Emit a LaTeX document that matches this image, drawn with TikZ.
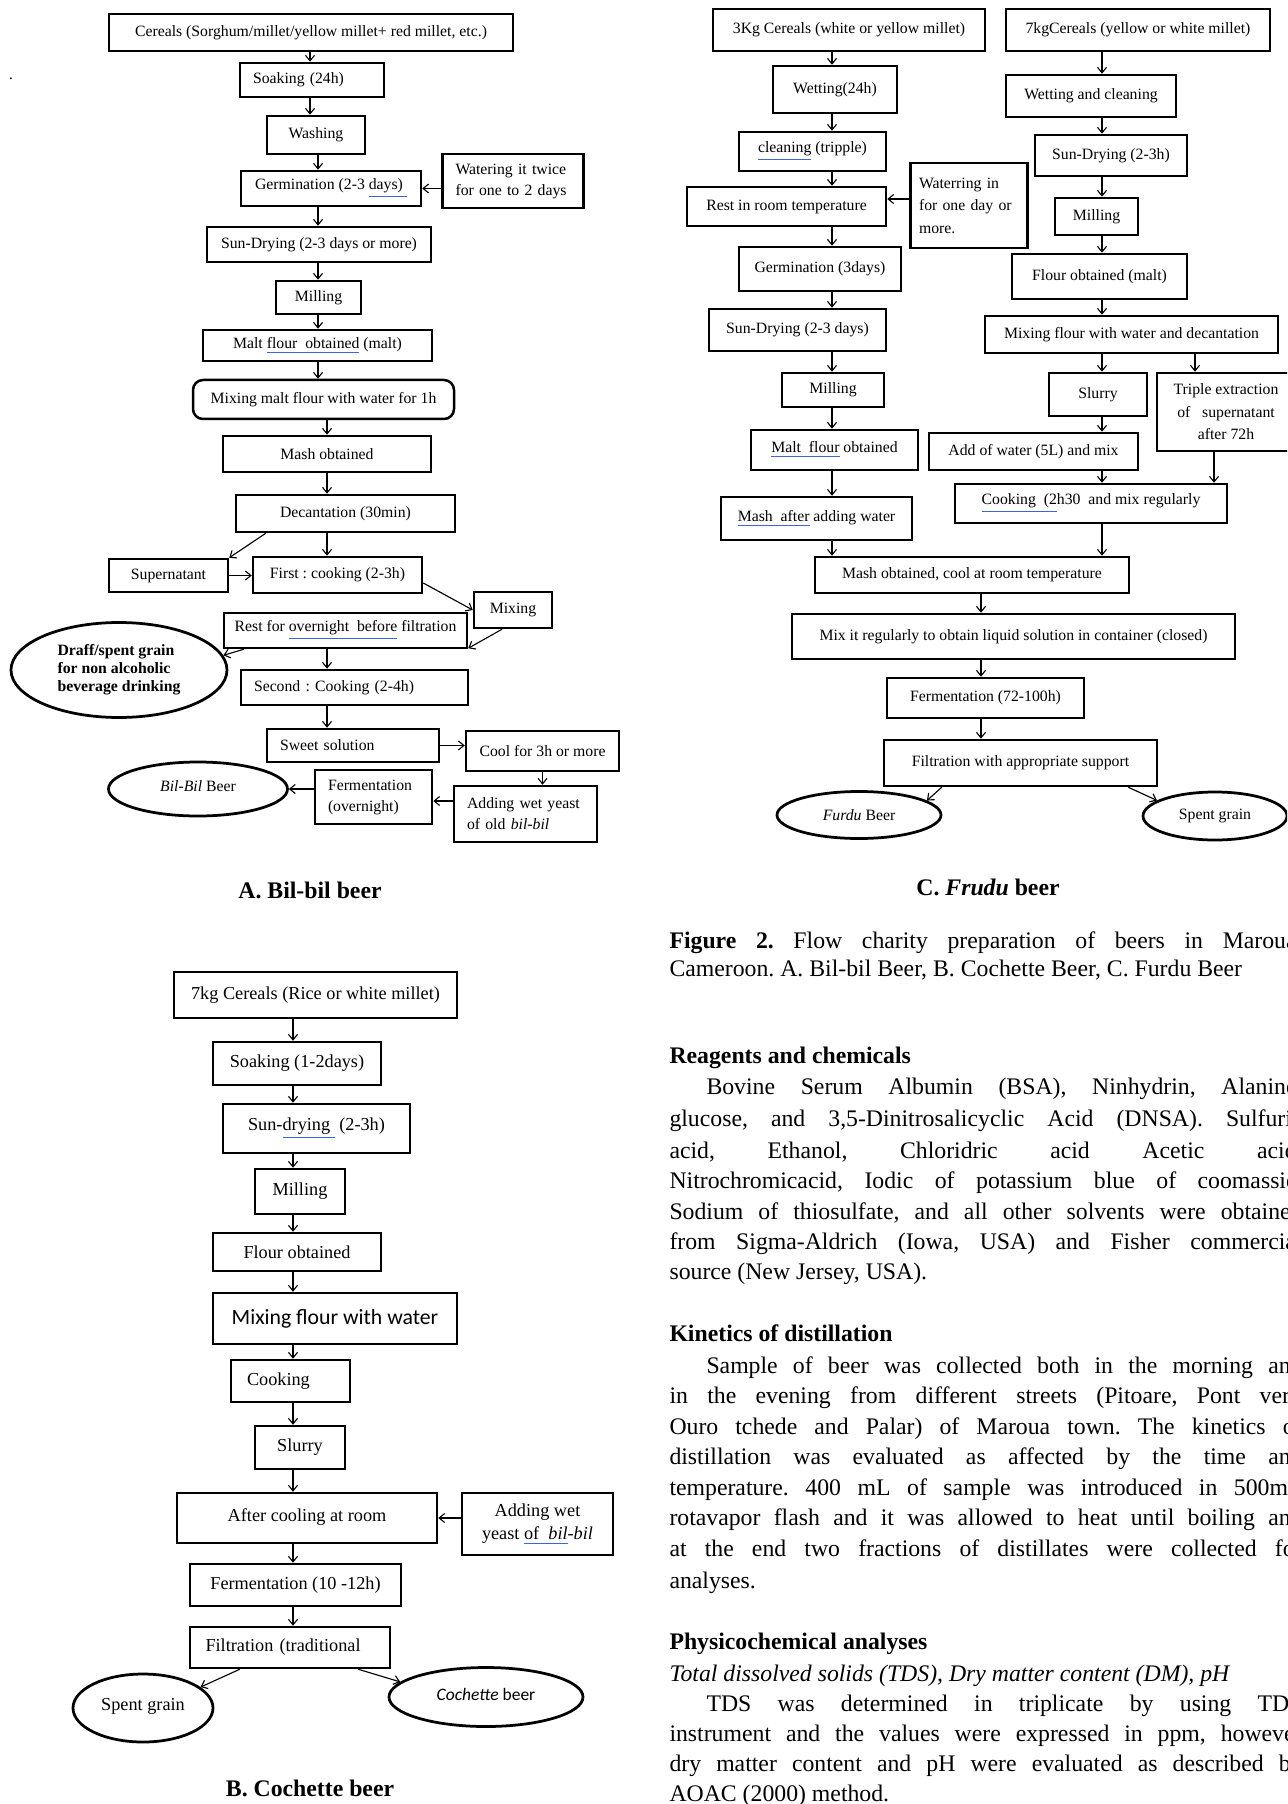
\documentclass[tikz,border=0pt]{standalone}
\usepackage{fontspec}
\setmainfont{Liberation Serif}
\newfontfamily\calfont{Carlito}
\usepackage{xcolor}
\usetikzlibrary{shapes.geometric,arrows.meta,positioning,calc}
\definecolor{spellblue}{RGB}{60,100,220}
\newcommand{\spell}[1]{\textcolor{spellblue}{\underline{\textcolor{black}{#1}}}}
\newlength{\colw}\setlength{\colw}{253.2pt}
\newlength{\colwi}\setlength{\colwi}{238.4pt}
\newcommand{\jline}[1]{\makebox[\colw][s]{#1}}
\newcommand{\jlinei}[1]{\makebox[\colwi][s]{#1}}
\frenchspacing

\begin{document}
\begin{tikzpicture}[x=0.4pt, y=-0.4pt,
  sz/.style 2 args={minimum width=#1*0.4pt, minimum height=#2*0.4pt},
  box/.style={draw, line width=1pt, inner sep=0pt, align=center, font=\fontsize{6.3}{8.4}\selectfont},
  cbox/.style={box, font=\fontsize{6.3}{9}\selectfont},
  bbox/.style={box, font=\fontsize{7.3}{9.3}\selectfont},
  lbox/.style={align=left, inner xsep=5.2pt},
  ebox/.style={draw, ellipse, line width=1.1pt, inner sep=0pt, align=center, font=\fontsize{6.3}{8.4}\selectfont},
  arr/.style={-{Straight Barb[length=2.2pt,width=3.6pt]}, line width=0.45pt},
  capt/.style={font=\fontsize{9.5}{11}\selectfont\bfseries},
  body/.style={anchor=base west, inner sep=0pt, font=\fontsize{9.5}{11}\selectfont},
  headtxt/.style={body, font=\fontsize{9.5}{11}\selectfont\bfseries}
]
\useasboundingbox (0,0) rectangle (1287,1804);
\clip (0,0) rectangle (1287,1804);

% A. Bil-bil beer
\node[font=\fontsize{6}{7}\selectfont, inner sep=0pt] (A0) at (11,79) {.};
\node[box, sz={404}{37}] (A1) at (311,32.5) {Cereals (Sorghum/millet/yellow millet+ red millet, etc.)};
\node[box, lbox, sz={144}{34}, text width=47.2pt] (A2) at (312,80) {Soaking (24h)};
\node[box, sz={98}{38}] (A3) at (316,135) {Washing};
\node[box, sz={180}{35}] (A4) at (331,188.5) {Germination (2-3 \spell{days)\ }};
\node[box, lbox, sz={140}{54}, text width=46pt] (A5) at (513,181) {Watering it twice\\for one to 2 days};
\node[box, sz={224}{35}] (A6) at (319,244.5) {Sun-Drying (2-3 days or more)};
\node[box, sz={85}{33}] (A7) at (318.5,297.5) {Milling};
\node[box, sz={229}{31}] (A8) at (317.5,345.5) {Malt \spell{flour\ \ obtained} (malt)};
\node[box, rounded corners=4pt, sz={261}{39}] (A9) at (323.5,399.5) {Mixing malt flour with water for 1h};
\node[box, sz={208}{36}] (A10) at (327,454) {Mash obtained};
\node[box, sz={219}{37}] (A11) at (345.5,513.5) {Decantation (30min)};
\node[box, sz={119}{33}] (A12) at (168.5,575.5) {Supernatant};
\node[box, sz={169}{36}] (A13) at (337.5,575) {First : cooking (2-3h)};
\node[box, sz={78}{36}] (A14) at (513,610) {Mixing};
\node[box, sz={243}{35}] (A15) at (345.5,630.5) {Rest for \spell{overnight\ \ before} filtration};
\node[ebox, sz={216}{95}, font=\fontsize{6.3}{7.2}\selectfont\bfseries, align=left] (A16) at (119,670) {Draff/spent grain\\for non alcoholic\\beverage drinking};
\node[box, lbox, sz={227}{35}, text width=80.4pt] (A17) at (354.5,687.5) {Second : Cooking (2-4h)};
\node[box, lbox, sz={172}{33}, text width=58.4pt] (A18) at (353,745.5) {Sweet solution};
\node[box, sz={153}{40}] (A19) at (542.5,751) {Cool for 3h or more};
\node[box, lbox, sz={143}{56}, text width=46.8pt] (A20) at (525.5,814) {Adding wet yeast\\of old \textit{bil-bil}};
\node[box, lbox, sz={117}{54}, text width=36.4pt] (A21) at (373.5,797) {Fermentation\\(overnight)};
\node[ebox, sz={179}{54}] (A22) at (198,789) {\raisebox{2pt}{\textit{Bil-Bil} Beer}};
\node[capt] (A23) at (310,890) {A. Bil-bil beer};

% arrows of A
\coordinate (LA1) at (310,0);
\coordinate (LA2) at (318,0);
\coordinate (LA3) at (327,0);
\coordinate (LA4) at (0,801);
\draw[arr] (A1.south -| LA1) -- (A2.north -| LA1);
\draw[arr] (A2.south -| LA1) -- (A3.north -| LA1);
\draw[arr] (A3.south -| LA2) -- (A4.north -| LA2);
\draw[arr] (A4.south -| LA2) -- (A6.north -| LA2);
\draw[arr] (A6.south -| LA2) -- (A7.north -| LA2);
\draw[arr] (A7.south -| LA2) -- (A8.north -| LA2);
\draw[arr] (A8.south -| LA2) -- (A9.north -| LA2);
\draw[arr] (A9.south -| LA3) -- (A10.north -| LA3);
\draw[arr] (A10.south -| LA3) -- (A11.north -| LA3);
\draw[arr] (A11.south -| LA3) -- (A13.north -| LA3);
\draw[arr] (A15.south -| LA3) -- (A17.north -| LA3);
\draw[arr] (A17.south -| LA3) -- (A18.north -| LA3);
\draw[arr] (A19.south) -- (A20.north -| A19.south);
\draw[arr] (A5.west |- A4.east) -- (A4.east);
\draw[arr] (A12.east) -- (A12.east -| A13.west);
\draw[arr] (A18.east) -- (A18.east -| A19.west);
\draw[arr] (A20.west |- LA4) -- (A21.east |- LA4);
\draw[arr] (A21.west |- A22.east) -- (A22.east);
\draw[arr] ([xshift=12.4pt]A11.south west) -- (A12.north east);
\draw[arr] ([yshift=-3.2pt]A13.east) -- (A14.west);
\draw[arr] ([xshift=-4.4pt]A14.south) -- ([yshift=0.4pt]A15.south east);
\draw[arr] ([xshift=8.4pt]A15.south west) -- (A16.8);

% C. Frudu beer
\node[cbox, sz={272}{42}] (C1) at (849,30) {3Kg Cereals (white or yellow millet)};
\node[cbox, sz={264}{42}] (C2) at (1138,30) {7kgCereals (yellow or white millet)};
\node[cbox, sz={124}{47}] (C3) at (835,89.5) {Wetting(24h)};
\node[cbox, sz={147}{39}] (C4) at (812.5,151.5) {\spell{cleaning} (tripple)};
\node[cbox, sz={199}{39}] (C5) at (786.5,206.5) {Rest in room temperature};
\node[cbox, lbox, sz={116}{85}, text width=40pt, inner xsep=3.4pt] (C6) at (969,205.5) {Waterring in\\for one day or\\more.};
\node[cbox, sz={162}{44}] (C7) at (820,269) {Germination (3days)};
\node[cbox, sz={177}{42}] (C8) at (797.5,330) {Sun-Drying (2-3 days)};
\node[cbox, sz={102}{34}] (C9) at (833,390) {Milling};
\node[cbox, sz={167}{40}] (C10) at (834.5,450) {\spell{Malt\ \ flour} obtained};
\node[cbox, sz={191}{43}] (C11) at (816.5,518.5) {\spell{Mash\ \ after} adding water};
\node[cbox, sz={170}{42}] (C12) at (1091,96) {Wetting and cleaning};
\node[cbox, sz={152}{41}] (C13) at (1111,155.5) {Sun-Drying (2-3h)};
\node[cbox, sz={83}{37}] (C14) at (1096.5,216.5) {Milling};
\node[cbox, sz={175}{45}] (C15) at (1099.5,276.5) {Flour obtained (malt)};
\node[cbox, sz={293}{37}] (C16) at (1131.5,334.5) {Mixing flour with water and decantation};
\node[cbox, sz={98}{43}] (C17) at (1098,394.5) {Slurry};
\node[cbox, sz={138}{78}] (C18) at (1226,412) {Triple extraction\\of\ \ \ supernatant\\after 72h};
\node[cbox, sz={209}{37}] (C19) at (1033.5,451.5) {Add of water (5L) and mix};
\node[cbox, sz={272}{39}] (C20) at (1091,503.5) {\spell{Cooking\ \ (2}h30\ \ and mix regularly};
\node[cbox, sz={314}{36}] (C21) at (972,575) {Mash obtained, cool at room temperature};
\node[cbox, sz={443}{45}] (C22) at (1013.5,636.5) {Mix it regularly to obtain liquid solution in container (closed)};
\node[cbox, sz={197}{40}] (C23) at (985.5,698) {Fermentation (72-100h)};
\node[cbox, sz={273}{46}] (C24) at (1020.5,763) {Filtration with appropriate support};
\node[ebox, sz={164}{47}] (C25) at (859,815) {\textit{Furdu} Beer};
\node[ebox, sz={144}{48}] (C26) at (1215,816) {Spent grain};
\node[capt] (C27) at (988,887) {C. \textit{Frudu} beer};

% arrows of C
\coordinate (LC1) at (832,0);
\coordinate (LC2) at (1102,0);
\coordinate (LC3) at (981,0);
\coordinate (LC4) at (1195,0);
\coordinate (LC5) at (1214,0);
\coordinate (LC6) at (0,199);
\draw[arr] (C1.south -| LC1) -- (C3.north -| LC1);
\draw[arr] (C3.south -| LC1) -- (C4.north -| LC1);
\draw[arr] (C4.south -| LC1) -- (C5.north -| LC1);
\draw[arr] (C5.south -| LC1) -- (C7.north -| LC1);
\draw[arr] (C7.south -| LC1) -- (C8.north -| LC1);
\draw[arr] (C8.south -| LC1) -- (C9.north -| LC1);
\draw[arr] (C9.south -| LC1) -- (C10.north -| LC1);
\draw[arr] (C10.south -| LC1) -- (C11.north -| LC1);
\draw[arr] (C11.south -| LC1) -- (C21.north -| LC1);
\draw[arr] (C2.south -| LC2) -- (C12.north -| LC2);
\draw[arr] (C12.south -| LC2) -- (C13.north -| LC2);
\draw[arr] (C13.south -| LC2) -- (C14.north -| LC2);
\draw[arr] (C14.south -| LC2) -- (C15.north -| LC2);
\draw[arr] (C15.south -| LC2) -- (C16.north -| LC2);
\draw[arr] (C16.south -| LC2) -- (C17.north -| LC2);
\draw[arr] (C17.south -| LC2) -- (C19.north -| LC2);
\draw[arr] (C19.south -| LC2) -- (C20.north -| LC2);
\draw[arr] (C20.south -| LC2) -- (C21.north -| LC2);
\draw[arr] (C16.south -| LC4) -- (C18.north -| LC4);
\draw[arr] (C18.south -| LC5) -- (C20.north -| LC5);
\draw[arr] (C21.south -| LC3) -- (C22.north -| LC3);
\draw[arr] (C22.south -| LC3) -- (C23.north -| LC3);
\draw[arr] (C23.south -| LC3) -- (C24.north -| LC3);
\draw[arr] (C6.west |- LC6) -- (C5.east |- LC6);
\draw[arr] ([xshift=23.6pt]C24.south west) -- (C25.12);
\draw[arr] ([xshift=-12pt]C24.south east) -- (C26.165);

% B. Cochette beer
\node[bbox, sz={283}{46}] (B1) at (315.5,995) {7kg Cereals (Rice or white millet)};
\node[bbox, sz={168}{43}] (B2) at (297,1063.5) {Soaking (1-2days)};
\node[bbox, sz={187}{49}] (B3) at (316.5,1128.5) {\raisebox{1.6pt}{Sun-\spell{drying\ }\ (2-3h)}};
\node[bbox, sz={90}{45}] (B4) at (300,1191.5) {Milling};
\node[bbox, sz={168}{38}] (B5) at (297,1252) {Flour obtained};
\node[bbox, sz={244}{51}, font=\calfont\fontsize{8.7}{10}\selectfont] (B6) at (335,1318.5) {Mixing flour with water};
\node[bbox, lbox, sz={119}{42}, text width=34.8pt, inner xsep=6.4pt] (B7) at (290.5,1381) {Cooking};
\node[bbox, sz={90}{43}] (B8) at (300,1447.5) {Slurry};
\node[bbox, sz={260}{50}] (B9) at (307,1518) {\raisebox{2pt}{After cooling at room}};
\node[bbox, sz={151}{62}] (B10) at (537.5,1524) {Adding wet\\yeast \spell{of\ \ \textit{bil}}\textit{-bil}};
\node[bbox, sz={211}{42}] (B11) at (295.5,1585) {Fermentation (10 -12h)};
\node[bbox, lbox, sz={200}{41}, text width=67.6pt, inner xsep=6.2pt] (B12) at (290,1647.5) {Filtration (traditional};
\node[ebox, sz={140}{68}, font=\fontsize{7.3}{9}\selectfont] (B13) at (143,1708) {\raisebox{2.8pt}{Spent grain}};
\node[ebox, sz={194}{59}, font=\calfont\fontsize{7}{9}\selectfont] (B14) at (486,1697) {\raisebox{2pt}{\textit{Cochette} beer}};
\node[capt] (B15) at (310,1788) {B. Cochette beer};

% arrows of B
\coordinate (LB) at (293,0);
\draw[arr] (B1.south -| LB) -- (B2.north -| LB);
\draw[arr] (B2.south -| LB) -- (B3.north -| LB);
\draw[arr] (B3.south -| LB) -- (B4.north -| LB);
\draw[arr] (B4.south -| LB) -- (B5.north -| LB);
\draw[arr] (B5.south -| LB) -- (B6.north -| LB);
\draw[arr] (B6.south -| LB) -- (B7.north -| LB);
\draw[arr] (B7.south -| LB) -- (B8.north -| LB);
\draw[arr] (B8.south -| LB) -- (B9.north -| LB);
\draw[arr] (B9.south -| LB) -- (B11.north -| LB);
\draw[arr] (B11.south -| LB) -- (B12.north -| LB);
\draw[arr] (B10.west |- B9.east) -- (B9.east);
\draw[arr] ([xshift=20.4pt]B12.south west) -- (B13.20);
\draw[arr] ([xshift=-13.2pt]B12.south east) -- (B14.170);

% text column
\node[body] (T1) at (669,948) {\jline{\textbf{Figure 2.} Flow charity preparation of beers in Maroua,}};
\node[body] (T2) at (669,976) {Cameroon. A. Bil-bil Beer, B. Cochette Beer, C. Furdu Beer};
\node[headtxt] (T3) at (669,1063) {Reagents and chemicals};
\node[body] (T4) at (706,1094) {\jlinei{Bovine Serum Albumin (BSA), Ninhydrin, Alanine,}};
\node[body] (T5) at (669,1126) {\jline{glucose, and 3,5-Dinitrosalicyclic Acid (DNSA). Sulfuric}};
\node[body] (T6) at (669,1158) {\jline{acid, Ethanol, Chloridric acid Acetic acid,}};
\node[body] (T7) at (669,1188) {\jline{Nitrochromicacid, Iodic of potassium blue of coomassie,}};
\node[body] (T8) at (669,1219) {\jline{Sodium of thiosulfate, and all other solvents were obtained}};
\node[body] (T9) at (669,1249) {\jline{from Sigma-Aldrich (Iowa, USA) and Fisher commercial}};
\node[body] (T10) at (669,1279) {source (New Jersey, USA).};
\node[headtxt] (T11) at (669,1341) {Kinetics of distillation};
\node[body] (T12) at (706,1373) {\jlinei{Sample of beer was collected both in the morning and}};
\node[body] (T13) at (669,1403) {\jline{in the evening from different streets (Pitoare, Pont vert,}};
\node[body] (T14) at (669,1434) {\jline{Ouro tchede and Palar) of Maroua town. The kinetics of}};
\node[body] (T15) at (669,1464) {\jline{distillation was evaluated as affected by the time and}};
\node[body] (T16) at (669,1495) {\jline{temperature. 400 mL of sample was introduced in 500mL}};
\node[body] (T17) at (669,1525) {\jline{rotavapor flash and it was allowed to heat until boiling and}};
\node[body] (T18) at (669,1556) {\jline{at the end two fractions of distillates were collected for}};
\node[body] (T19) at (669,1588) {analyses.};
\node[headtxt] (T20) at (669,1649) {Physicochemical analyses};
\node[body] (T21) at (669,1681) {\textit{Total dissolved solids (TDS), Dry matter content (DM), pH}};
\node[body] (T22) at (706,1711) {\jlinei{TDS was determined in triplicate by using TDS}};
\node[body] (T23) at (669,1741) {\jline{instrument and the values were expressed in ppm, however}};
\node[body] (T24) at (669,1771) {\jline{dry matter content and pH were evaluated as described by}};
\node[body] (T25) at (669,1801) {AOAC (2000) method.};
\end{tikzpicture}
\end{document}
